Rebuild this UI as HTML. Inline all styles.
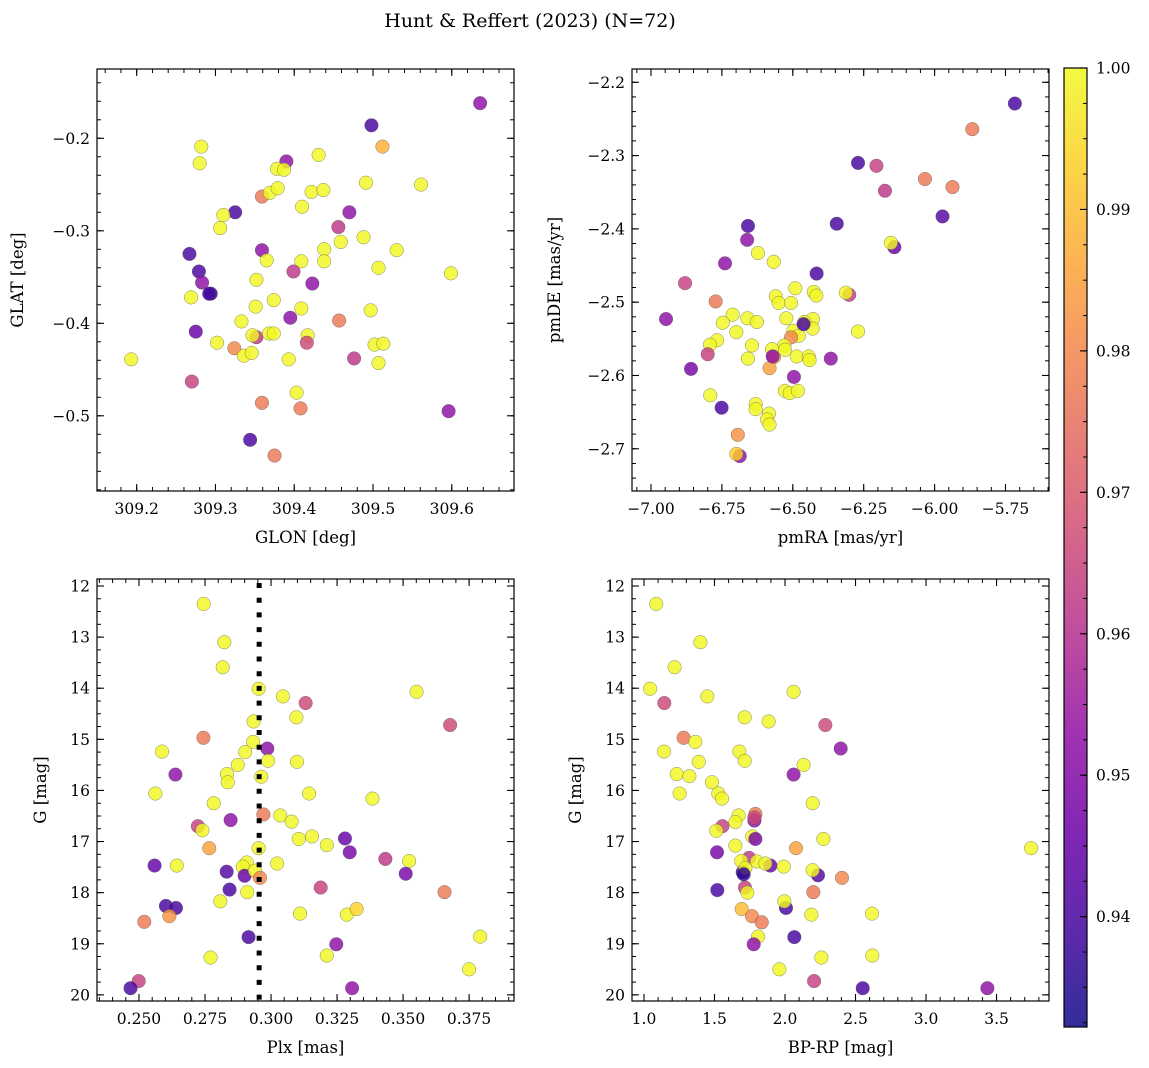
<!DOCTYPE html>
<html><head><meta charset="utf-8"><style>
html,body{margin:0;padding:0;background:#fff;}
svg{display:block;font-family:"DejaVu Serif","Liberation Serif",serif;}
</style></head><body>
<svg id="fig" width="1149" height="1068" viewBox="0 0 1149 1068">
<text x="530" y="27" font-size="19" text-anchor="middle">Hunt &amp; Reffert (2023) (N=72)</text>
</svg>
<script>
// ---- data ----
const p1x=[309.636,309.498,309.512,309.282,309.280,309.390,309.431,309.378,309.387,309.491,309.561,309.359,309.369,309.379,309.422,309.437,309.410,309.325,309.310,309.306,309.470,309.456,309.488,309.459,309.267,309.359,309.438,309.530,309.365,309.409,309.438,309.279,309.399,309.507,309.599,309.283,309.423,309.352,309.294,309.292,309.269,309.374,309.351,309.409,309.497,309.395,309.457,309.333,309.275,309.352,309.347,309.368,309.374,309.417,309.416,309.302,309.324,309.502,309.513,309.336,309.346,309.393,309.476,309.507,309.193,309.270,309.403,309.359,309.408,309.596,309.344,309.375];
const p1y=[-0.162,-0.186,-0.209,-0.209,-0.227,-0.225,-0.218,-0.233,-0.234,-0.248,-0.250,-0.263,-0.259,-0.254,-0.258,-0.256,-0.274,-0.280,-0.283,-0.297,-0.280,-0.296,-0.307,-0.312,-0.325,-0.321,-0.320,-0.321,-0.332,-0.333,-0.333,-0.344,-0.344,-0.340,-0.346,-0.356,-0.357,-0.353,-0.368,-0.368,-0.372,-0.375,-0.382,-0.384,-0.386,-0.394,-0.397,-0.398,-0.409,-0.415,-0.413,-0.411,-0.411,-0.413,-0.421,-0.421,-0.427,-0.423,-0.422,-0.435,-0.432,-0.439,-0.438,-0.443,-0.439,-0.463,-0.475,-0.486,-0.492,-0.495,-0.526,-0.543];
const p1c=[0.952,0.940,0.988,0.9995,0.9995,0.952,0.9995,0.9995,0.9995,0.9995,0.9995,0.977,0.9995,0.9995,0.9995,0.9995,0.9995,0.940,0.9995,0.9995,0.952,0.962,0.9995,0.9995,0.940,0.952,0.9995,0.9995,0.9995,0.9995,0.9995,0.940,0.962,0.9995,0.9995,0.952,0.952,0.9995,0.936,0.940,0.9995,0.9995,0.9995,0.9995,0.9995,0.952,0.977,0.9995,0.945,0.962,0.9995,0.9995,0.9995,0.9995,0.966,0.9995,0.980,0.9995,0.9995,0.9995,0.9995,0.9995,0.962,0.9995,0.9995,0.964,0.9995,0.977,0.977,0.952,0.940,0.977];

const p2x=[-5.717,-5.867,-6.270,-6.205,-6.034,-5.937,-6.175,-5.972,-6.345,-6.658,-6.661,-6.142,-6.154,-6.623,-6.567,-6.739,-6.416,-6.880,-6.491,-6.426,-6.417,-6.301,-6.313,-6.560,-6.550,-6.506,-6.772,-6.712,-6.947,-6.660,-6.627,-6.523,-6.429,-6.459,-6.747,-6.430,-6.699,-6.498,-6.479,-6.506,-6.270,-6.767,-6.792,-6.644,-6.530,-6.573,-6.528,-6.800,-6.566,-6.486,-6.444,-6.658,-6.441,-6.366,-6.859,-6.582,-6.496,-6.791,-6.528,-6.511,-6.482,-6.751,-6.631,-6.631,-6.584,-6.591,-6.582,-6.694,-6.687,-6.699,-6.462,-6.571];
const p2y=[-2.229,-2.264,-2.310,-2.314,-2.332,-2.343,-2.348,-2.383,-2.393,-2.396,-2.415,-2.425,-2.419,-2.433,-2.445,-2.447,-2.461,-2.474,-2.481,-2.486,-2.491,-2.490,-2.487,-2.492,-2.501,-2.501,-2.499,-2.517,-2.523,-2.522,-2.527,-2.522,-2.523,-2.527,-2.528,-2.536,-2.541,-2.539,-2.546,-2.548,-2.540,-2.552,-2.558,-2.559,-2.559,-2.564,-2.565,-2.571,-2.575,-2.574,-2.574,-2.577,-2.579,-2.577,-2.591,-2.590,-2.602,-2.627,-2.621,-2.624,-2.621,-2.644,-2.639,-2.646,-2.652,-2.660,-2.667,-2.681,-2.710,-2.707,-2.530,-2.574];
const p2c=[0.940,0.977,0.940,0.964,0.977,0.977,0.962,0.942,0.940,0.940,0.952,0.945,0.9995,0.9995,0.9995,0.952,0.940,0.964,0.9995,0.9995,0.9995,0.964,0.9995,0.9995,0.9995,0.9995,0.977,0.9995,0.952,0.9995,0.9995,0.9995,0.9995,0.9995,0.9995,0.9995,0.9995,0.9995,0.9995,0.980,0.9995,0.9995,0.9995,0.9995,0.9995,0.9995,0.9995,0.964,0.988,0.9995,0.9995,0.9995,0.9995,0.952,0.948,0.985,0.952,0.9995,0.9995,0.9995,0.9995,0.940,0.9995,0.9995,0.9995,0.9995,0.9995,0.982,0.952,0.993,0.940,0.952];

const p3x=[0.2745,0.2823,0.2817,0.2953,0.3551,0.3045,0.3131,0.3096,0.3678,0.2934,0.2744,0.2932,0.2986,0.2587,0.2902,0.2989,0.3098,0.2874,0.2638,0.2833,0.2963,0.2836,0.2562,0.3144,0.3384,0.2783,0.2971,0.3035,0.3078,0.2847,0.2723,0.2740,0.3105,0.3155,0.3280,0.3211,0.3298,0.2766,0.2953,0.3433,0.3523,0.2559,0.2643,0.3023,0.2908,0.2893,0.3510,0.2832,0.2900,0.2939,0.2958,0.2843,0.2910,0.3188,0.3657,0.2808,0.2602,0.2640,0.2615,0.2520,0.3110,0.3287,0.3324,0.2915,0.3792,0.3247,0.2771,0.3211,0.3750,0.2499,0.2468,0.3307];
const p3y=[12.35,13.10,13.59,14.01,14.07,14.16,14.29,14.57,14.72,14.65,14.97,15.05,15.18,15.24,15.25,15.42,15.44,15.50,15.69,15.68,15.73,15.84,16.06,16.06,16.16,16.25,16.47,16.49,16.61,16.58,16.70,16.78,16.95,16.90,16.94,17.07,17.21,17.13,17.13,17.34,17.38,17.47,17.47,17.43,17.41,17.49,17.63,17.59,17.67,17.57,17.71,17.94,17.99,17.90,17.99,18.17,18.26,18.30,18.46,18.57,18.41,18.43,18.32,18.87,18.86,19.01,19.27,19.23,19.50,19.73,19.87,19.87];
const p3c=[0.9995,0.9995,0.9995,0.9995,0.9995,0.9995,0.966,0.9995,0.966,0.9995,0.977,0.9995,0.952,0.9995,0.9995,0.9995,0.9995,0.9995,0.952,0.9995,0.9995,0.9995,0.9995,0.9995,0.9995,0.9995,0.977,0.9995,0.9995,0.952,0.964,0.9995,0.9995,0.9995,0.945,0.9995,0.948,0.985,0.9995,0.962,0.9995,0.945,0.9995,0.9995,0.9995,0.9995,0.948,0.942,0.945,0.9995,0.980,0.940,0.9995,0.964,0.977,0.9995,0.940,0.940,0.983,0.977,0.9995,0.9995,0.994,0.940,0.9995,0.952,0.9995,0.9995,0.9995,0.964,0.940,0.952];

const p4x=[1.087,1.400,1.217,1.043,2.061,1.449,1.144,1.714,1.884,2.286,1.281,1.364,2.395,1.142,1.676,1.714,1.388,2.132,2.061,1.232,1.322,1.482,1.253,1.527,1.553,2.196,1.790,1.671,1.648,1.783,1.556,1.513,1.768,1.790,2.272,1.648,1.518,2.078,3.745,1.745,1.690,1.801,1.896,1.861,1.991,1.700,1.719,2.234,2.196,2.404,1.520,1.716,1.733,2.201,2.007,1.995,1.693,1.766,1.835,2.187,2.617,2.066,1.809,1.778,2.258,2.619,1.960,2.206,2.551,3.435,1.707,1.783];
const p4y=[12.35,13.10,13.59,14.01,14.07,14.16,14.29,14.57,14.65,14.72,14.97,15.05,15.18,15.24,15.24,15.42,15.44,15.50,15.69,15.68,15.72,15.84,16.06,16.06,16.16,16.25,16.46,16.49,16.62,16.59,16.70,16.79,16.90,16.95,16.95,17.08,17.21,17.13,17.13,17.32,17.38,17.39,17.47,17.43,17.49,17.60,17.52,17.66,17.56,17.71,17.95,17.90,18.00,17.99,18.30,18.17,18.32,18.46,18.58,18.43,18.41,18.87,18.86,19.01,19.27,19.23,19.50,19.73,19.87,19.87,17.64,16.53];
const p4c=[0.9995,0.9995,0.9995,0.9995,0.9995,0.9995,0.966,0.9995,0.9995,0.966,0.977,0.9995,0.952,0.9995,0.9995,0.9995,0.9995,0.9995,0.952,0.9995,0.9995,0.9995,0.9995,0.9995,0.9995,0.9995,0.977,0.9995,0.9995,0.952,0.964,0.9995,0.9995,0.948,0.9995,0.9995,0.948,0.985,0.9995,0.962,0.9995,0.9995,0.945,0.9995,0.9995,0.940,0.9995,0.942,0.9995,0.980,0.940,0.964,0.9995,0.977,0.940,0.9995,0.990,0.980,0.977,0.9995,0.9995,0.940,0.9995,0.952,0.9995,0.9995,0.9995,0.964,0.940,0.952,0.936,0.966];

const p1xt=[309.2,309.3,309.4,309.5,309.6], p1xl=["309.2","309.3","309.4","309.5","309.6"];
const p1yt=[-0.2,-0.3,-0.4,-0.5], p1yl=["\u22120.2","\u22120.3","\u22120.4","\u22120.5"];
const p2xt=[-7,-6.75,-6.5,-6.25,-6,-5.75], p2xl=["\u22127.00","\u22126.75","\u22126.50","\u22126.25","\u22126.00","\u22125.75"];
const p2yt=[-2.2,-2.3,-2.4,-2.5,-2.6,-2.7], p2yl=["\u22122.2","\u22122.3","\u22122.4","\u22122.5","\u22122.6","\u22122.7"];
const p3xt=[0.25,0.275,0.3,0.325,0.35,0.375], p3xl=["0.250","0.275","0.300","0.325","0.350","0.375"];
const gyt=[12,13,14,15,16,17,18,19,20], gyl=["12","13","14","15","16","17","18","19","20"];
const p4xt=[1,1.5,2,2.5,3,3.5], p4xl=["1.0","1.5","2.0","2.5","3.0","3.5"];
const cbt=[0.94,0.95,0.96,0.97,0.98,0.99,1.00], cbl=["0.94","0.95","0.96","0.97","0.98","0.99","1.00"];
const plxLine=[0.2955];
const cmin=0.9322, cmax=1.0;

const NS="http://www.w3.org/2000/svg";
const svg=document.getElementById('fig');
function mk(tag,attrs,parent){const e=document.createElementNS(NS,tag);for(const k in attrs)e.setAttribute(k,attrs[k]);(parent||svg).appendChild(e);return e;}
const stops=[[13,8,135],[65,4,157],[106,0,168],[143,13,164],[177,42,144],[204,71,120],[225,100,98],[242,132,75],[252,166,54],[252,206,37],[240,249,33]];
function plasma(t){t=Math.max(0,Math.min(1,t))*10;const i=Math.min(9,Math.floor(t)),f=t-i;const a=stops[i],b=stops[i+1];return 'rgb('+a.map((v,k)=>Math.round(v+(b[k]-v)*f)).join(',')+')';}

function panel(o){
  const g=mk('g',{});
  
  
  const X=v=>o.L+(v-o.x0)/(o.x1-o.x0)*(o.R-o.L);
  const Y=v=>o.T+(v-o.y0)/(o.y1-o.y0)*(o.B-o.T);
  for(let i=0;i<o.xs.length;i++){
    const c=mk('circle',{cx:X(o.xs[i]),cy:Y(o.ys[i]),r:6.8,fill:plasma((o.cs[i]-cmin)/(cmax-cmin)),'fill-opacity':0.82,stroke:'#555','stroke-opacity':0.7,'stroke-width':0.5},g);
    
    
  }
  if(o.vline){for(const v of o.vline){const l=mk('line',{x1:X(v),x2:X(v),y1:o.T+4,y2:o.B,stroke:'#000','stroke-width':5,'stroke-dasharray':'5,9.7'},g);}}
  const fr=mk('rect',{x:o.L,y:o.T,width:o.R-o.L,height:o.B-o.T,fill:'none',stroke:'#000','stroke-width':1.2},g);
  
  const lo=Math.min(o.x0,o.x1),hi=Math.max(o.x0,o.x1);
  for(let v=Math.ceil(lo/o.xm-1e-6)*o.xm;v<=hi+1e-9;v+=o.xm){const x=X(v);mk('line',{x1:x,x2:x,y1:o.B,y2:o.B-4,stroke:'#000','stroke-width':1},g);mk('line',{x1:x,x2:x,y1:o.T,y2:o.T+4,stroke:'#000','stroke-width':1},g);}
  const ylo=Math.min(o.y0,o.y1),yhi=Math.max(o.y0,o.y1);
  for(let v=Math.ceil(ylo/o.ym-1e-6)*o.ym;v<=yhi+1e-9;v+=o.ym){const y=Y(v);mk('line',{x1:o.L,x2:o.L+4,y1:y,y2:y,stroke:'#000','stroke-width':1},g);mk('line',{x1:o.R,x2:o.R-4,y1:y,y2:y,stroke:'#000','stroke-width':1},g);}
  o.xt.forEach((v,i)=>{const x=X(v);mk('line',{x1:x,x2:x,y1:o.B,y2:o.B-7,stroke:'#000','stroke-width':1.1},g);mk('line',{x1:x,x2:x,y1:o.T,y2:o.T+7,stroke:'#000','stroke-width':1.1},g);
    const t=mk('text',{x:x,y:o.B+23,'font-size':15.5,'text-anchor':'middle'},g);t.textContent=o.xl[i];});
  o.yt.forEach((v,i)=>{const y=Y(v);mk('line',{x1:o.L,x2:o.L+7,y1:y,y2:y,stroke:'#000','stroke-width':1.1},g);mk('line',{x1:o.R,x2:o.R-7,y1:y,y2:y,stroke:'#000','stroke-width':1.1},g);
    const t=mk('text',{x:o.L-7,y:y+5.5,'font-size':15.5,'text-anchor':'end'},g);t.textContent=o.yl[i];});
  const xl=mk('text',{x:(o.L+o.R)/2,y:o.B+52,'font-size':16.5,'text-anchor':'middle'},g);xl.textContent=o.xlab;
  const yl=mk('text',{x:o.ylx,y:(o.T+o.B)/2,'font-size':16.5,'text-anchor':'middle',transform:'rotate(-90 '+o.ylx+' '+(o.T+o.B)/2+')'},g);yl.textContent=o.ylab;
}
panel({name:'glon-glat-panel',L:97,R:514,T:69,B:491,x0:309.1496,x1:309.679,y0:-0.1251,y1:-0.5813,xs:p1x,ys:p1y,cs:p1c,xt:p1xt,xl:p1xl,yt:p1yt,yl:p1yl,xm:0.02,ym:0.02,xlab:'GLON [deg]',ylab:'GLAT [deg]',ylx:23});
panel({name:'proper-motion-panel',L:632,R:1049,T:69,B:491,x0:-7.067,x1:-5.5966,y0:-2.1819,y1:-2.7576,xs:p2x,ys:p2y,cs:p2c,xt:p2xt,xl:p2xl,yt:p2yt,yl:p2yl,xm:0.05,ym:0.02,xlab:'pmRA [mas/yr]',ylab:'pmDE [mas/yr]',ylx:560});
panel({name:'parallax-mag-panel',L:97,R:514,T:579,B:1001,x0:0.2341,x1:0.3920,y0:11.863,y1:20.12,xs:p3x,ys:p3y,cs:p3c,xt:p3xt,xl:p3xl,yt:gyt,yl:gyl,xm:0.005,ym:0.25,xlab:'Plx [mas]',ylab:'G [mag]',ylx:46,vline:plxLine});
panel({name:'cmd-panel',L:632,R:1049,T:579,B:1001,x0:0.915,x1:3.872,y0:11.863,y1:20.12,xs:p4x,ys:p4y,cs:p4c,xt:p4xt,xl:p4xl,yt:gyt,yl:gyl,xm:0.1,ym:0.25,xlab:'BP-RP [mag]',ylab:'G [mag]',ylx:581});

const cb=mk('g',{});


const defs=mk('defs',{},cb);const lg=mk('linearGradient',{id:'pg',x1:0,y1:1,x2:0,y2:0},defs);
for(let i=0;i<=20;i++)mk('stop',{offset:(i/20),'stop-color':plasma(i/20),'stop-opacity':0.85},lg);
const CT=68,CB=1027,CL=1064,CR=1087;
mk('rect',{x:CL,y:CT,width:CR-CL,height:CB-CT,fill:'url(#pg)',stroke:'#000','stroke-width':1.2},cb);
const CY=v=>CB-(v-cmin)/(cmax-cmin)*(CB-CT);
for(let v=0.9325;v<=1.0001;v+=0.0025){mk('line',{x1:CR,x2:CR-4,y1:CY(v),y2:CY(v),stroke:'#000','stroke-width':1},cb);}
cbt.forEach((v,i)=>{const y=CY(v);mk('line',{x1:CR,x2:CR-7,y1:y,y2:y,stroke:'#000','stroke-width':1.1},cb);
  const t=mk('text',{x:CR+9,y:y+5.5,'font-size':15.5},cb);t.textContent=cbl[i];});
</script>
</body></html>
